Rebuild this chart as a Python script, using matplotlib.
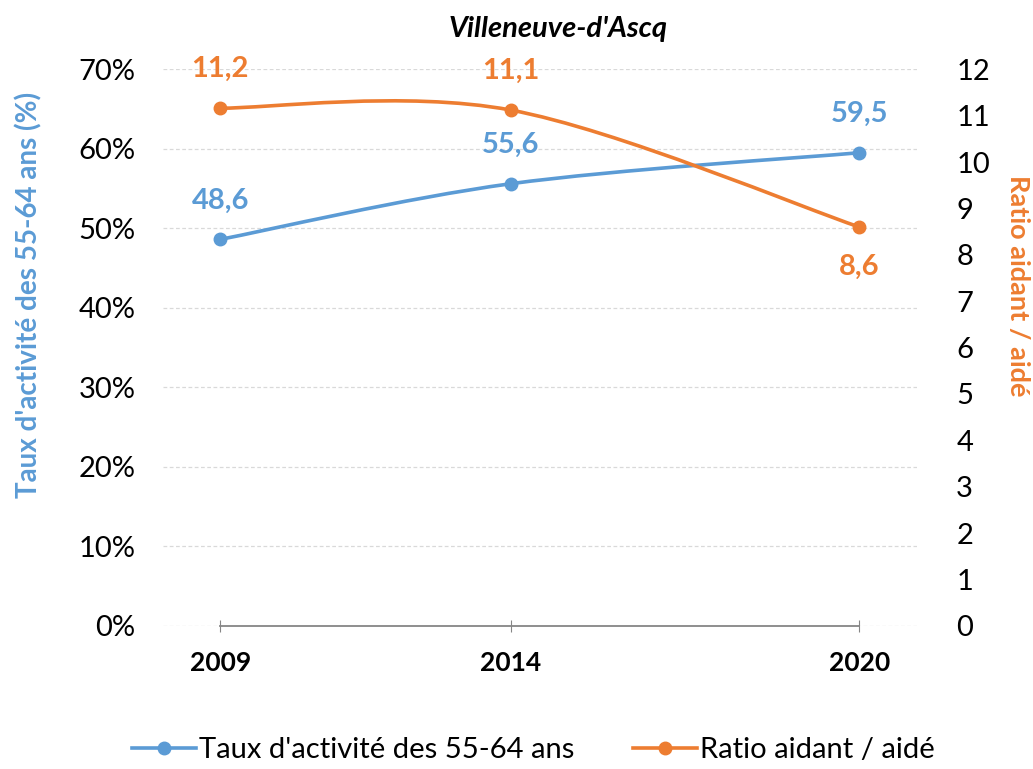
import matplotlib.pyplot as plt
from matplotlib.path import Path
from matplotlib.patches import PathPatch
from matplotlib.lines import Line2D
from matplotlib.ticker import FuncFormatter

plt.rcParams['font.family'] = ['Lato', 'DejaVu Sans']

# data
years = [2009, 2014, 2020]
taux = [48.6, 55.6, 59.5]          # % (left axis)
ratio = [11.16, 11.12, 8.6]        # right axis
title = "Villeneuve-d'Ascq"
label_taux = "Taux d'activité des 55-64 ans"
label_ratio = "Ratio aidant / aidé"

BLUE = "#5B9BD5"
ORANGE = "#ED7D31"
GRID = "#D9D9D9"


def smooth_path(x, y):
    """Excel-like smoothed line: cubic Bezier through the points."""
    pts = list(zip(x, y))
    n = len(pts)
    verts = [pts[0]]
    codes = [Path.MOVETO]
    for i in range(n - 1):
        p0 = pts[max(i - 1, 0)]
        p1 = pts[i]
        p2 = pts[i + 1]
        p3 = pts[min(i + 2, n - 1)]
        c1 = (p1[0] + (p2[0] - p0[0]) / 6, p1[1] + (p2[1] - p0[1]) / 6)
        c2 = (p2[0] - (p3[0] - p1[0]) / 6, p2[1] - (p3[1] - p1[1]) / 6)
        verts += [c1, c2, p2]
        codes += [Path.CURVE4] * 3
    return Path(verts, codes)


fig = plt.figure(figsize=(10.33, 7.69), dpi=100)
ax = fig.add_axes([0.158, 0.186, 0.730, 0.724])
ax2 = ax.twinx()

ax.set_xlim(2008.02, 2021.0)
ax.set_ylim(0, 70)
ax2.set_ylim(0, 12)

# grid
for v in range(10, 80, 10):
    ax.axhline(v, color=GRID, lw=0.9, ls=(0, (3, 2)), zorder=0)
ax.axhline(0, color=GRID, lw=0.9, ls=(0, (3, 2)), zorder=0)
ax.plot([years[0], years[-1]], [0, 0], color="#868686", lw=1.3, zorder=1, clip_on=False)

for s in ax.spines.values():
    s.set_visible(False)
for s in ax2.spines.values():
    s.set_visible(False)

ax.set_yticks(range(0, 80, 10))
ax.yaxis.set_major_formatter(FuncFormatter(lambda v, p: f"{int(v)}%"))
ax.tick_params(axis='y', length=0, labelsize=21, pad=20)
ax2.set_yticks(range(0, 13))
ax2.tick_params(axis='y', length=0, labelsize=21, pad=28)

ax.set_xticks(years)
ax.set_xticklabels([str(y) for y in years], fontweight='bold')
ax.tick_params(axis='x', direction='inout', length=8, color="#868686", labelsize=19, pad=14)

# lines
ax.add_patch(PathPatch(smooth_path(years, taux), fill=False, edgecolor=BLUE, lw=2.6,
                       capstyle='round', zorder=3))
ax.plot(years, taux, 'o', color=BLUE, ms=9, zorder=4)
ax2.add_patch(PathPatch(smooth_path(years, ratio), fill=False, edgecolor=ORANGE, lw=2.6,
                        capstyle='round', zorder=3))
ax2.plot(years, ratio, 'o', color=ORANGE, ms=9, zorder=4)


def fmt(v):
    return f"{v:.1f}".replace('.', ',')


for x, y in zip(years, taux):
    ax.annotate(fmt(y), (x, y), xytext=(0, 28), textcoords='offset points', ha='center',
                va='center', color=BLUE, fontsize=21, fontweight='bold')
for i, (x, y) in enumerate(zip(years, ratio)):
    off = 28 if i < 2 else -29
    ax2.annotate(fmt(y), (x, y), xytext=(0, off), textcoords='offset points', ha='center',
                 va='center', color=ORANGE, fontsize=21, fontweight='bold')

fig.text(0.54, 0.962, title, ha='center', va='center', fontsize=21,
         fontweight='bold', fontstyle='italic')
fig.text(0.028, 0.617, label_taux + " (%)", rotation=90, ha='center', va='center',
         color=BLUE, fontsize=20, fontweight='bold')
fig.text(0.985, 0.628, label_ratio, rotation=-90, ha='center', va='center',
         color=ORANGE, fontsize=19.5, fontweight='bold')

handles = [Line2D([], [], color=BLUE, lw=2.6, marker='o', ms=9),
           Line2D([], [], color=ORANGE, lw=2.6, marker='o', ms=9)]
fig.legend(handles, [label_taux, label_ratio], loc='center', bbox_to_anchor=(0.516, 0.025),
           ncol=2, frameon=False, fontsize=21, handlelength=2.2, handletextpad=0.1,
           columnspacing=2.0)

fig.savefig("out.png", dpi=100)
